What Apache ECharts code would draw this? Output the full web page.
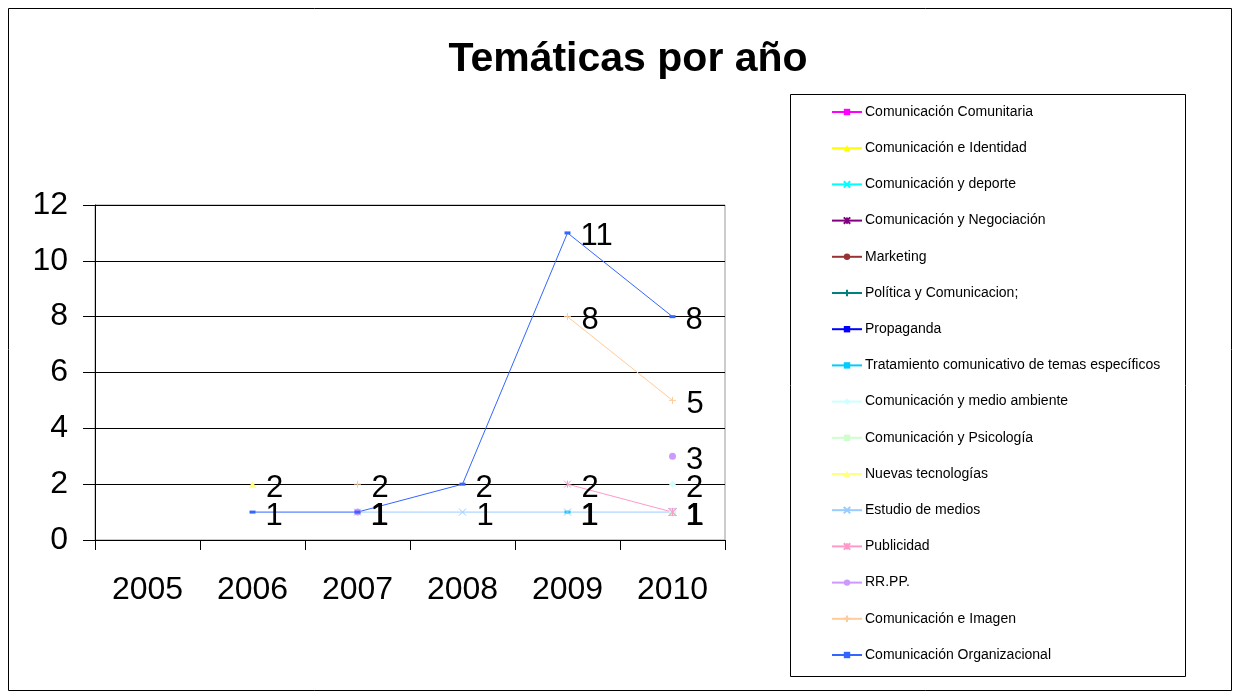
<!DOCTYPE html>
<html>
<head>
<meta charset="utf-8">
<script src="https://cdn.jsdelivr.net/npm/echarts@6/dist/echarts.min.js"></script>
<style>
  html, body { margin: 0; padding: 0; background: #fff; }
  #chart { width: 1240px; height: 698px; }
</style>
</head>
<body>
<div id="chart"></div>
<script>
// categories and tick labels
var years = ['2005', '2006', '2007', '2008', '2009', '2010'];
var yTicks = [0, 2, 4, 6, 8, 10, 12];

// series values (null = no entry that year)
var comunitaria   = [null, null, null, null, null, 1];
var identidad     = [null, null, null, null, null, null];
var deporte       = [null, null, null, null, null, null];
var negociacion   = [null, null, null, null, null, 1];
var marketing     = [null, null, null, null, null, null];
var politica      = [null, null, null, null, null, null];
var propaganda    = [null, null, null, null, null, 1];
var tratamiento   = [null, null, null, null, 1, null];
var medioAmbiente = [null, null, null, null, null, 2];
var psicologia    = [null, null, null, null, null, 1];
var nuevasTec     = [null, 2, null, null, null, null];
var estudioMedios = [null, null, 1, 1, 1, 1];
var publicidad    = [null, null, null, null, 2, 1];
var rrpp          = [null, null, 1, null, null, 3];
var imagen        = [null, null, 2, null, 8, 5];
var organizacional = [null, 1, 1, 2, 11, 8];

var seriesDefs = [
  ['Comunicación Comunitaria', comunitaria, '#FF00FF', 'rect'],
  ['Comunicación e Identidad', identidad, '#FFFF00', 'triangle'],
  ['Comunicación y deporte', deporte, '#00FFFF', 'path://M0,0L10,10M10,0L0,10'],
  ['Comunicación y Negociación', negociacion, '#800080', 'path://M0,0L10,10M10,0L0,10M5,0L5,10'],
  ['Marketing', marketing, '#993333', 'circle'],
  ['Política y Comunicacion;', politica, '#008080', 'path://M5,0L5,10M0,5L10,5'],
  ['Propaganda', propaganda, '#0000FF', 'rect'],
  ['Tratamiento comunicativo de temas específicos', tratamiento, '#00CCFF', 'rect'],
  ['Comunicación y medio ambiente', medioAmbiente, '#CCFFFF', 'diamond'],
  ['Comunicación y Psicología', psicologia, '#CCFFCC', 'rect'],
  ['Nuevas tecnologías', nuevasTec, '#FFFF80', 'triangle'],
  ['Estudio de medios', estudioMedios, '#99CCFF', 'path://M0,0L10,10M10,0L0,10'],
  ['Publicidad', publicidad, '#FF99CC', 'path://M0,0L10,10M10,0L0,10M5,0L5,10'],
  ['RR.PP.', rrpp, '#CC99FF', 'circle'],
  ['Comunicación e Imagen', imagen, '#FFCC99', 'path://M5,0L5,10M0,5L10,5'],
  ['Comunicación Organizacional', organizacional, '#3366FF', 'rect']
];

var FONT = 'Arial, "Liberation Sans", sans-serif';

var chart = echarts.init(document.getElementById('chart'));

var series = seriesDefs.map(function (d) {
  var isPath = d[3].indexOf('path://') === 0;
  var isDash = d[0] === 'Propaganda' || d[0] === 'Comunicación Organizacional' ||
               d[0].indexOf('Tratamiento') === 0;
  return {
    name: d[0],
    type: 'line',
    data: d[1],
    color: d[2],
    symbol: d[3],
    symbolSize: isDash ? [6, 3] : (isPath ? 7 : 7),
    showAllSymbol: true,
    lineStyle: { width: 1, color: d[2] },
    itemStyle: {
      color: d[2],
      borderColor: d[2],
      borderWidth: isPath ? 1 : 0
    },
    label: {
      show: true,
      position: 'right',
      distance: 10,
      offset: [0, 4],
      color: '#000',
      fontSize: 31,
      fontFamily: FONT
    },
    emphasis: { disabled: true },
    animation: false
  };
});

var option = {
  backgroundColor: '#fff',
  animation: false,
  title: {
    text: 'Temáticas por año',
    left: 623,
    textAlign: 'center',
    top: 34,
    textStyle: { fontSize: 41, fontWeight: 'bold', color: '#000', fontFamily: FONT }
  },
  legend: {
    orient: 'vertical',
    left: 826,
    top: 100,
    itemWidth: 30,
    itemHeight: 8,
    itemGap: 22.2,
    data: seriesDefs.map(function (d) { return d[0]; }),
    textStyle: { fontSize: 14, color: '#000', fontFamily: FONT, padding: [0, 0, 0, -2] },
    selectedMode: false
  },
  grid: {
    left: 95,
    right: 515,
    top: 205,
    bottom: 158,
    show: true,
    borderColor: '#999',
    borderWidth: 1
  },
  xAxis: {
    type: 'category',
    data: years,
    boundaryGap: true,
    axisLine: { lineStyle: { color: '#000', width: 1 } },
    axisTick: { show: true, interval: 0, length: 10, lineStyle: { color: '#000' } },
    axisLabel: { fontSize: 32, color: '#000', fontFamily: FONT, margin: 34, interval: 0 },
    splitLine: { show: false }
  },
  yAxis: {
    type: 'value',
    min: yTicks[0],
    max: yTicks[yTicks.length - 1],
    interval: 2,
    axisLine: { show: true, lineStyle: { color: '#000', width: 1 } },
    axisTick: { show: true, length: 12, lineStyle: { color: '#000' } },
    axisLabel: { fontSize: 32, color: '#000', fontFamily: FONT, margin: 27 },
    splitLine: { show: true, lineStyle: { color: '#000', width: 1 } }
  },
  graphic: [
    {
      type: 'rect',
      shape: { x: 8.5, y: 8.5, width: 1223, height: 682 },
      style: { fill: 'none', stroke: '#000', lineWidth: 1 },
      silent: true
    },
    {
      type: 'rect',
      shape: { x: 790.5, y: 94.5, width: 395, height: 582 },
      style: { fill: 'none', stroke: '#000', lineWidth: 1 },
      silent: true
    }
  ],
  series: series
};

chart.setOption(option);
</script>
</body>
</html>
